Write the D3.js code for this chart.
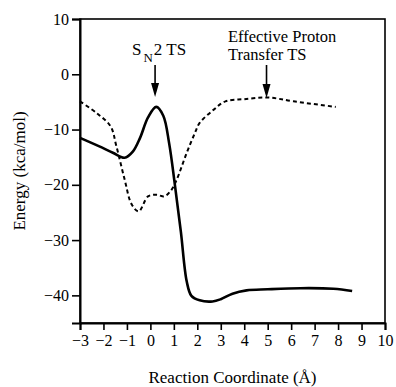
<!DOCTYPE html>
<html>
<head>
<meta charset="utf-8">
<script src="https://cdn.jsdelivr.net/npm/d3@7"></script>
<style>
  body { margin: 0; background: #fff; }
  svg text { font-family: "Times New Roman", "Liberation Serif", Times, "DejaVu Serif", serif !important; fill: #000; }
</style>
</head>
<body>
<div id="chart"></div>
<script>
// Curve data
const solidX = [-3, -2.2, -1.6, -1.1, -0.75, -0.44, -0.1, 0.25, 0.55, 0.8, 1.05, 1.3, 1.55, 1.75, 2.1, 2.65, 3.0, 3.5, 4.1, 5.0, 6.4, 7.8, 8.6];
const solidY = [-11.5, -13.0, -14.2, -15.1, -14.0, -11.5, -7.8, -5.9, -7.5, -12.5, -20.2, -28.5, -37.5, -40.1, -40.9, -41.1, -40.7, -39.7, -39.1, -38.9, -38.7, -38.8, -39.2];

const dashX = [-3, -2.3, -1.7, -1.45, -1.1, -0.8, -0.5, -0.1, 0.27, 0.6, 0.9, 1.1, 1.55, 1.9, 2.1, 2.7, 3.2, 4.0, 5.0, 6.1, 7.9];
const dashY = [-4.9, -7.0, -9.4, -13.0, -19.0, -23.5, -24.8, -22.1, -21.8, -22.1, -20.9, -19.3, -14.2, -10.6, -8.8, -6.4, -4.9, -4.5, -4.2, -4.9, -5.9];

const xTicks = [-3, -2, -1, 0, 1, 2, 3, 4, 5, 6, 7, 8, 9, 10];
const yTicks = [-40, -30, -20, -10, 0, 10];

// Set the dimensions and margins of the graph
const margin = { top: 19, right: 11, bottom: 64, left: 80 },
    width = 396 - margin.left - margin.right,
    height = 387 - margin.top - margin.bottom;

const svg = d3.select("#chart")
    .append("svg")
    .attr("width", 396)
    .attr("height", 387);

const g = svg.append("g")
    .attr("transform", `translate(${margin.left},${margin.top})`);

const x = d3.scaleLinear().domain([-3, 10]).range([0, width]);
const y = d3.scaleLinear().domain([-45, 10]).range([height, 0]);

// frame
g.append("rect")
    .attr("width", width)
    .attr("height", height)
    .attr("fill", "none")
    .attr("stroke", "#000")
    .attr("stroke-width", 1.6);

// X axis
const xAxis = g.append("g")
    .attr("transform", `translate(0,${height})`)
    .call(d3.axisBottom(x).tickValues(xTicks).tickSize(7).tickPadding(5).tickFormat(d3.format("d")));
xAxis.select(".domain").attr("stroke-width", 2);
xAxis.selectAll(".tick line").attr("stroke-width", 1.6);
xAxis.selectAll("text").style("font-size", "16px");

// Y axis
const yAxis = g.append("g")
    .call(d3.axisLeft(y).tickValues(yTicks).tickSize(8).tickPadding(3).tickFormat(d3.format("d")));
yAxis.select(".domain").attr("stroke-width", 2);
yAxis.selectAll(".tick line").attr("stroke-width", 1.6);
yAxis.selectAll("text").style("font-size", "16px");

// Axis titles
svg.append("text")
    .attr("x", margin.left + width / 2)
    .attr("y", 383)
    .attr("text-anchor", "middle")
    .style("font-size", "17px")
    .text("Reaction Coordinate (Å)");

svg.append("text")
    .attr("transform", "rotate(-90)")
    .attr("x", -(margin.top + height / 2))
    .attr("y", 25)
    .attr("text-anchor", "middle")
    .style("font-size", "17px")
    .text("Energy (kca/mol)");

// Curves
const line = d3.line()
    .x(d => x(d[0]))
    .y(d => y(d[1]))
    .curve(d3.curveCatmullRom.alpha(0.5));

g.append("path")
    .datum(dashX.map((v, i) => [v, dashY[i]]))
    .attr("d", line)
    .attr("fill", "none")
    .attr("stroke", "#000")
    .attr("stroke-width", 2)
    .attr("stroke-dasharray", "4,3");

g.append("path")
    .datum(solidX.map((v, i) => [v, solidY[i]]))
    .attr("d", line)
    .attr("fill", "none")
    .attr("stroke", "#000")
    .attr("stroke-width", 2.6);

// Annotation arrows
function arrow(xv, y0, y1) {
    g.append("line")
        .attr("x1", x(xv)).attr("x2", x(xv))
        .attr("y1", y0 - margin.top).attr("y2", y1 - margin.top - 6)
        .attr("stroke", "#000")
        .attr("stroke-width", 1.6);
    g.append("path")
        .attr("d", `M${x(xv) - 4},${y1 - margin.top - 14} L${x(xv) + 4},${y1 - margin.top - 14} L${x(xv)},${y1 - margin.top} Z`)
        .attr("fill", "#000");
}

arrow(0.2, 65, 97);
arrow(4.95, 65, 98);

const sn2 = svg.append("text")
    .attr("x", 132)
    .attr("y", 55)
    .style("font-size", "17px");
sn2.append("tspan").text("S");
sn2.append("tspan").attr("dy", 7).attr("dx", 2).style("font-size", "13px").text("N");
sn2.append("tspan").attr("dy", -7).attr("dx", 1).text("2 TS");

svg.append("text")
    .attr("x", 228)
    .attr("y", 42)
    .style("font-size", "16.5px")
    .text("Effective Proton");
svg.append("text")
    .attr("x", 228)
    .attr("y", 60)
    .style("font-size", "16.5px")
    .text("Transfer TS");
</script>
</body>
</html>
